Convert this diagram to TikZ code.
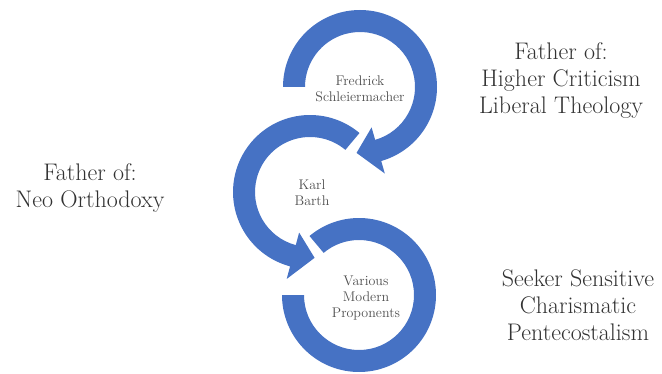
\documentclass[tikz,border=0pt]{standalone}
\definecolor{arrowblue}{RGB}{70,114,196}
\definecolor{labelgray}{RGB}{50,50,50}
\definecolor{innergray}{RGB}{80,80,80}
\begin{document}
\begin{tikzpicture}[x=1pt, y=1pt, line join=round,
	band/.style={fill=arrowblue, draw=none},
	biglabel/.style={align=center, text=labelgray, font=\fontsize{24}{27}\selectfont},
	ringlabel/.style={align=center, text=innergray, font=\fontsize{14}{16}\selectfont}]
	\useasboundingbox (0,0) rectangle (662,373);
	\coordinate (C1) at (360,286);
	\coordinate (C2) at (310,181);
	\coordinate (C3) at (359,78);
	% top ring, clockwise, head at the bottom
	\fill[band] ([shift={(180:77)}]C1) arc[start angle=180, end angle=-74, radius=77]
		-- ([shift={(-74:90)}]C1) -- ([shift={(-93:66)}]C1) -- ([shift={(-74:42)}]C1)
		-- ([shift={(-74:55)}]C1) arc[start angle=-74, end angle=180, radius=55] -- cycle;
	% middle ring, counter clockwise
	\fill[band] ([shift={(50:77)}]C2) arc[start angle=50, end angle=255, radius=77]
		-- ([shift={(255:90)}]C2) -- ([shift={(274:66)}]C2) -- ([shift={(255:42)}]C2)
		-- ([shift={(255:55)}]C2) arc[start angle=255, end angle=50, radius=55] -- cycle;
	% bottom ring, no head
	\fill[band] ([shift={(130:77)}]C3) arc[start angle=130, end angle=-180, radius=77]
		-- ([shift={(-180:55)}]C3) arc[start angle=-180, end angle=130, radius=55] -- cycle;
	\node[ringlabel] (fredrick) at (360,284) {Fredrick\\Schleiermacher};
	\node[ringlabel] (karl) at (312,180) {Karl\\Barth};
	\node[ringlabel] (various) at (366,75) {Various\\Modern\\Proponents};
	\node[biglabel] (higher) at (561,292) {Father of:\\Higher Criticism\\Liberal Theology};
	\node[biglabel] (neo) at (90,185) {Father of:\\Neo Orthodoxy};
	\node[biglabel] (seeker) at (578,68) {Seeker Sensitive\\Charismatic\\Pentecostalism};
\end{tikzpicture}
\end{document}
